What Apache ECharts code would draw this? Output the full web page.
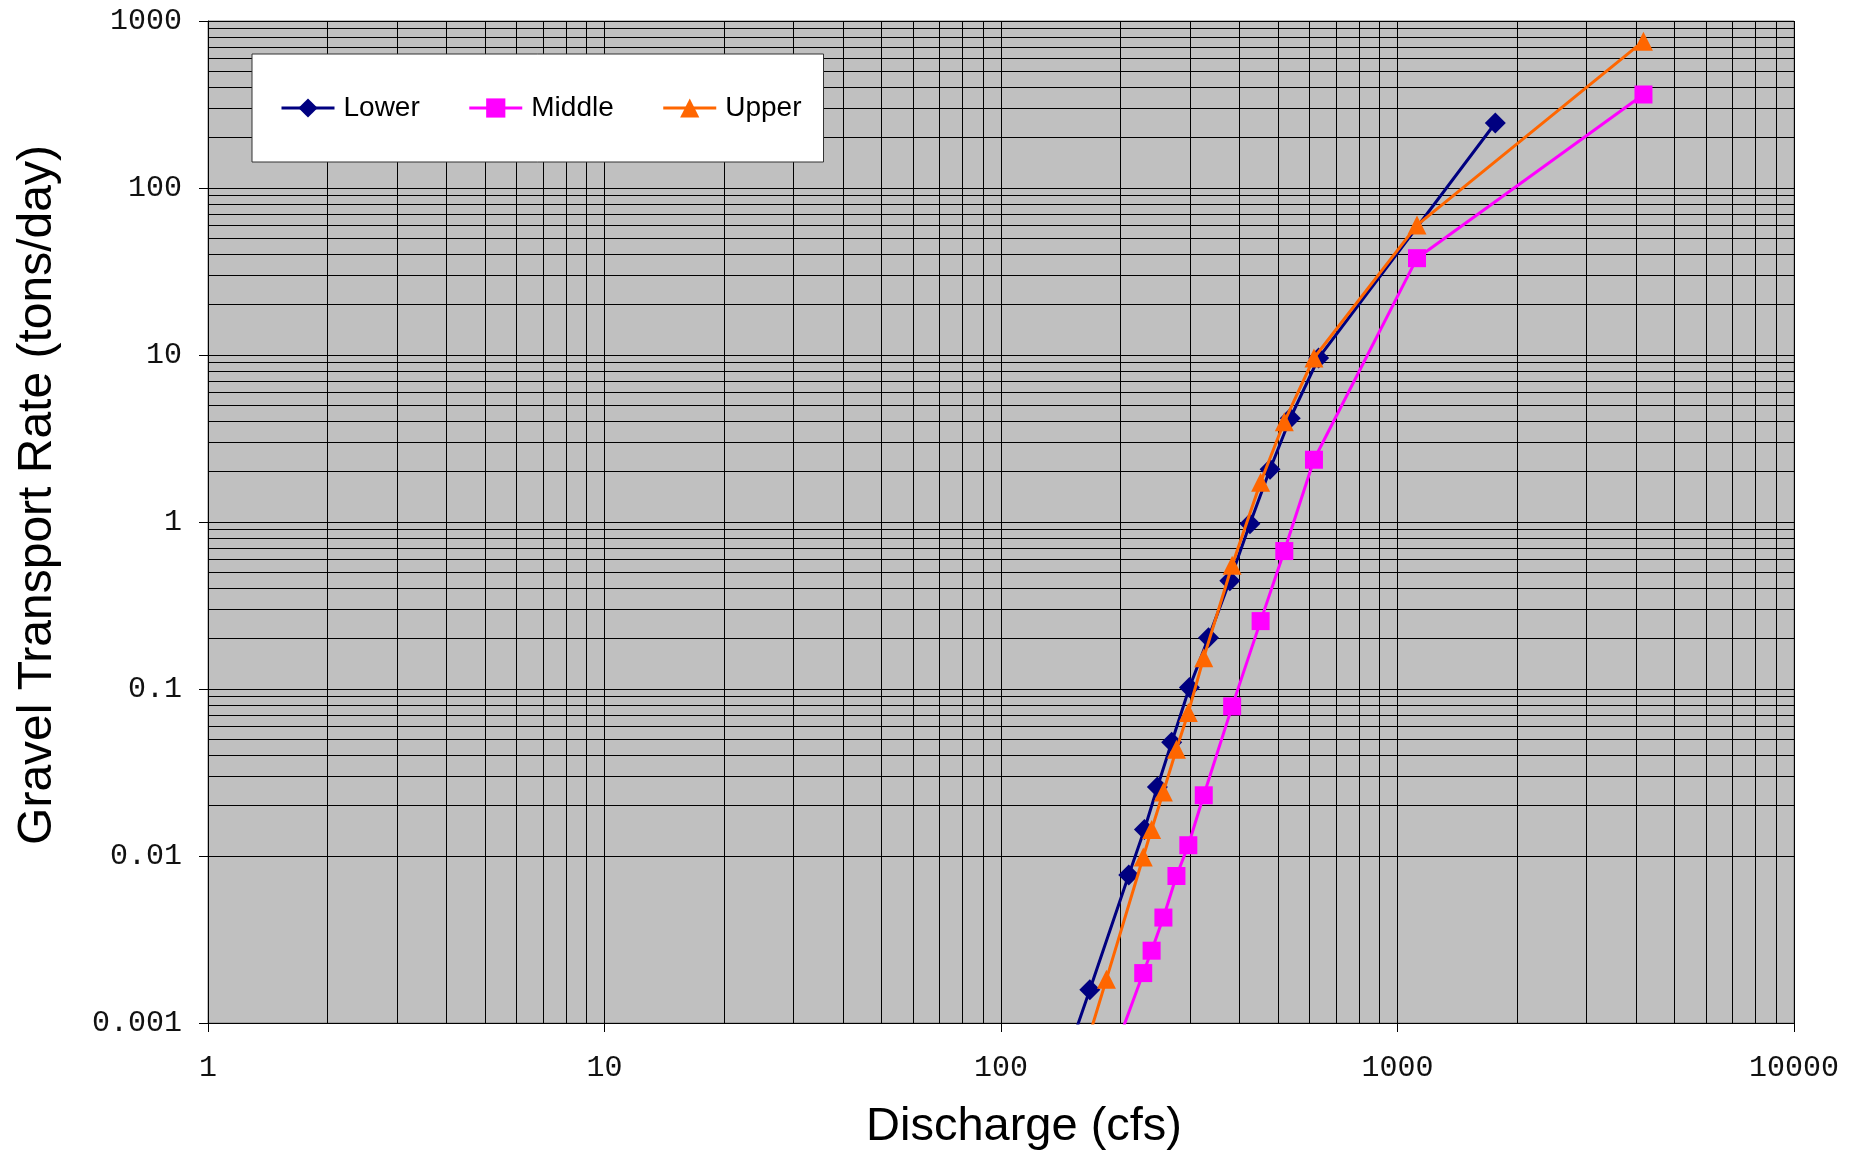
<!DOCTYPE html>
<html><head><meta charset="utf-8">
<script src="https://cdn.jsdelivr.net/npm/echarts@6/dist/echarts.min.js"></script>
<style>html,body{margin:0;padding:0;background:#fff}#c{width:1858px;height:1153px}</style>
</head><body><div id="c"></div>
<script>
// Discharge (cfs) and gravel transport rate (tons/day) per reach
const lowerX = [140, 167.5, 210, 230, 248, 269.5, 298.7, 333.7, 377.6, 424.5, 477, 536.5, 632.6, 1765];
const lowerY = [0.00046, 0.00158, 0.0077, 0.0144, 0.0259, 0.048, 0.102, 0.203, 0.445, 0.976, 2.07, 4.18, 9.6, 245];
const middleX = [184.5, 228.4, 239.8, 256.8, 277, 296.8, 324.6, 382.8, 451.6, 518.2, 615.6, 1120, 4172];
const middleY = [0.0005, 0.00199, 0.00271, 0.00428, 0.00759, 0.0116, 0.0231, 0.0787, 0.255, 0.67, 2.36, 38, 363];
const upperX = [160, 184.5, 228.4, 239.8, 256.8, 277, 296.8, 324.6, 382.8, 451.6, 518.2, 615.6, 1120, 4172];
const upperY = [0.0006, 0.00183, 0.00986, 0.0144, 0.0242, 0.0436, 0.0724, 0.154, 0.551, 1.73, 3.98, 9.6, 60, 757];

const xTickLabels = ['1', '10', '100', '1000', '10000'];
const yTickLabels = ['0.001', '0.01', '0.1', '1', '10', '100', '1000'];
const xMinorGrid = [2,3,4,5,6,7,8,9,20,30,40,50,60,70,80,90,200,300,400,500,600,700,800,900,2000,3000,4000,5000,6000,7000,8000,9000];
const yMinorGrid = [0.002,0.003,0.004,0.005,0.006,0.007,0.008,0.009,0.02,0.03,0.04,0.05,0.06,0.07,0.08,0.09,0.2,0.3,0.4,0.5,0.6,0.7,0.8,0.9,2,3,4,5,6,7,8,9,20,30,40,50,60,70,80,90,200,300,400,500,600,700,800,900];

const xTitle = 'Discharge (cfs)';
const yTitle = 'Gravel Transport Rate (tons/day)';

function pick(labels, v) {
  const l = labels.find(s => Math.abs(Math.log10(+s) - Math.log10(v)) < 1e-6);
  return l === undefined ? '' : l;
}
const pairs = (xs, ys) => xs.map((x, i) => [x, ys[i]]);

const chart = echarts.init(document.getElementById('c'), null, {renderer: 'canvas'});
const tickFont = {fontFamily: 'Liberation Mono', fontSize: 30, color: '#111'};
const gridLine = {color: '#000', width: 1, type: 'solid'};

chart.setOption({
  animation: false,
  backgroundColor: '#fff',
  grid: {left: 208, right: 64, top: 21, bottom: 130, show: true, backgroundColor: '#C0C0C0', borderColor: '#808080', borderWidth: 1},
  xAxis: {
    type: 'log', logBase: 10, min: 1, max: 10000,
    axisLine: {show: true, lineStyle: {color: '#000', width: 1}},
    axisTick: {show: true, inside: false, length: 9, lineStyle: {color: '#000'}},
    axisLabel: Object.assign({margin: 30, formatter: v => pick(xTickLabels, v)}, tickFont),
    splitLine: {show: true, lineStyle: gridLine}
  },
  yAxis: {
    type: 'log', logBase: 10, min: 0.001, max: 1000,
    axisLine: {show: true, lineStyle: {color: '#000', width: 1}},
    axisTick: {show: true, inside: false, length: 9, lineStyle: {color: '#000'}},
    axisLabel: Object.assign({margin: 26, formatter: v => pick(yTickLabels, v)}, tickFont),
    splitLine: {show: true, lineStyle: gridLine}
  },
  legend: {
    data: ['Lower', 'Middle', 'Upper'],
    left: 252, top: 54, z: 20,
    orient: 'horizontal',
    padding: [40, 22, 40, 28],
    itemGap: 48, itemWidth: 53, itemHeight: 24,
    backgroundColor: '#fff', borderColor: '#333', borderWidth: 1,
    lineStyle: {width: 3},
    textStyle: {fontFamily: 'Liberation Sans', fontSize: 28, color: '#000', padding: [0, 0, 0, 4]}
  },
  graphic: [
    {type: 'text', x: 1024, y: 1127, silent: true,
     style: {text: xTitle, fontFamily: 'Liberation Sans', fontSize: 47, fill: '#000', textAlign: 'center', textVerticalAlign: 'middle'}},
    {type: 'text', x: 38, y: 495, rotation: Math.PI / 2, silent: true,
     style: {text: yTitle, fontFamily: 'Liberation Sans', fontSize: 48, fill: '#000', textAlign: 'center', textVerticalAlign: 'middle'}}
  ],
  series: [
    {
      name: 'minorGrid', type: 'line', data: [], z: 1, silent: true,
      markLine: {
        z: 1, silent: true, symbol: ['none', 'none'], label: {show: false}, animation: false,
        lineStyle: {color: '#000', width: 1, type: 'solid'}, emphasis: {disabled: true},
        data: xMinorGrid.map(v => ({xAxis: v})).concat(yMinorGrid.map(v => ({yAxis: v})))
      }
    },
    {
      name: 'Lower', type: 'line', data: pairs(lowerX, lowerY), z: 3,
      symbol: 'diamond', symbolSize: 21, clip: true,
      lineStyle: {color: '#000080', width: 3}, itemStyle: {color: '#000080'}
    },
    {
      name: 'Middle', type: 'line', data: pairs(middleX, middleY), z: 4,
      symbol: 'rect', symbolSize: 18, clip: true,
      lineStyle: {color: '#FF00FF', width: 3}, itemStyle: {color: '#FF00FF'}
    },
    {
      name: 'Upper', type: 'line', data: pairs(upperX, upperY), z: 5,
      symbol: 'triangle', symbolSize: 19, clip: true,
      lineStyle: {color: '#FF6600', width: 3}, itemStyle: {color: '#FF6600'}
    }
  ]
});
</script>
</body></html>
